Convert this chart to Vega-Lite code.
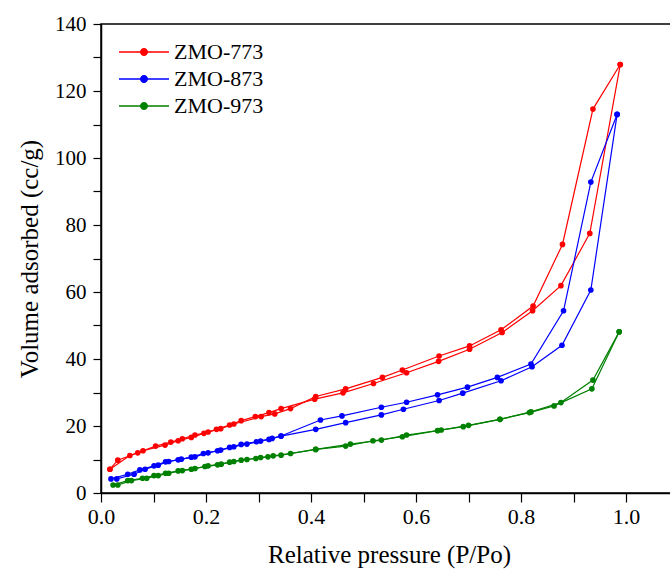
{
  "$schema": "https://vega.github.io/schema/vega-lite/v6.json",
  "width": 576,
  "height": 469,
  "autosize": {"type": "none"},
  "padding": {"left": 101, "top": 24, "right": 0, "bottom": 81},
  "background": "white",
  "config": {
    "view": {"stroke": "black", "strokeWidth": 1.5},
    "font": "Liberation Serif",
    "axis": {
      "domainColor": "black", "domainWidth": 1.5, "tickColor": "black", "tickWidth": 1.2,
      "labelColor": "black", "titleColor": "black", "grid": false,
      "labelFont": "Liberation Serif", "titleFont": "Liberation Serif",
      "labelFontSize": 21, "titleFontSize": 25, "titleFontWeight": "normal"
    }
  },
  "data": {"values": [
    {"s":"ZMO-773","b":"a","x":0.017,"y":7.1},{"s":"ZMO-773","b":"a","x":0.032,"y":9.8},{"s":"ZMO-773","b":"a","x":0.080,"y":12.6},{"s":"ZMO-773","b":"a","x":0.122,"y":14.3},{"s":"ZMO-773","b":"a","x":0.147,"y":15.6},{"s":"ZMO-773","b":"a","x":0.172,"y":16.6},{"s":"ZMO-773","b":"a","x":0.196,"y":17.8},{"s":"ZMO-773","b":"a","x":0.220,"y":19.0},{"s":"ZMO-773","b":"a","x":0.245,"y":20.3},{"s":"ZMO-773","b":"a","x":0.267,"y":21.6},{"s":"ZMO-773","b":"a","x":0.294,"y":22.8},{"s":"ZMO-773","b":"a","x":0.320,"y":24.0},{"s":"ZMO-773","b":"a","x":0.343,"y":25.2},{"s":"ZMO-773","b":"a","x":0.407,"y":28.0},{"s":"ZMO-773","b":"a","x":0.461,"y":29.9},{"s":"ZMO-773","b":"a","x":0.519,"y":32.7},{"s":"ZMO-773","b":"a","x":0.582,"y":35.9},{"s":"ZMO-773","b":"a","x":0.643,"y":39.3},{"s":"ZMO-773","b":"a","x":0.702,"y":42.9},{"s":"ZMO-773","b":"a","x":0.764,"y":47.9},{"s":"ZMO-773","b":"a","x":0.822,"y":54.4},{"s":"ZMO-773","b":"a","x":0.876,"y":61.9},{"s":"ZMO-773","b":"a","x":0.931,"y":77.5},{"s":"ZMO-773","b":"a","x":0.989,"y":127.9},
    {"s":"ZMO-773","b":"d","x":0.989,"y":127.9},{"s":"ZMO-773","b":"d","x":0.937,"y":114.6},{"s":"ZMO-773","b":"d","x":0.879,"y":74.2},{"s":"ZMO-773","b":"d","x":0.823,"y":55.8},{"s":"ZMO-773","b":"d","x":0.762,"y":48.7},{"s":"ZMO-773","b":"d","x":0.702,"y":43.9},{"s":"ZMO-773","b":"d","x":0.644,"y":40.9},{"s":"ZMO-773","b":"d","x":0.574,"y":36.7},{"s":"ZMO-773","b":"d","x":0.536,"y":34.5},{"s":"ZMO-773","b":"d","x":0.466,"y":31.1},{"s":"ZMO-773","b":"d","x":0.409,"y":28.8},{"s":"ZMO-773","b":"d","x":0.361,"y":25.2},{"s":"ZMO-773","b":"d","x":0.331,"y":23.6},{"s":"ZMO-773","b":"d","x":0.305,"y":22.8},{"s":"ZMO-773","b":"d","x":0.253,"y":20.6},{"s":"ZMO-773","b":"d","x":0.228,"y":19.2},{"s":"ZMO-773","b":"d","x":0.204,"y":18.2},{"s":"ZMO-773","b":"d","x":0.179,"y":17.3},{"s":"ZMO-773","b":"d","x":0.155,"y":16.2},{"s":"ZMO-773","b":"d","x":0.133,"y":15.2},{"s":"ZMO-773","b":"d","x":0.104,"y":14.0},{"s":"ZMO-773","b":"d","x":0.070,"y":12.0},{"s":"ZMO-773","b":"d","x":0.055,"y":11.2},{"s":"ZMO-773","b":"d","x":0.017,"y":7.1},
    {"s":"ZMO-873","b":"a","x":0.019,"y":4.2},{"s":"ZMO-873","b":"a","x":0.051,"y":5.6},{"s":"ZMO-873","b":"a","x":0.074,"y":6.9},{"s":"ZMO-873","b":"a","x":0.101,"y":8.1},{"s":"ZMO-873","b":"a","x":0.123,"y":9.3},{"s":"ZMO-873","b":"a","x":0.147,"y":9.9},{"s":"ZMO-873","b":"a","x":0.172,"y":10.7},{"s":"ZMO-873","b":"a","x":0.195,"y":11.8},{"s":"ZMO-873","b":"a","x":0.222,"y":12.6},{"s":"ZMO-873","b":"a","x":0.245,"y":13.6},{"s":"ZMO-873","b":"a","x":0.267,"y":14.5},{"s":"ZMO-873","b":"a","x":0.296,"y":15.3},{"s":"ZMO-873","b":"a","x":0.320,"y":16.0},{"s":"ZMO-873","b":"a","x":0.343,"y":17.0},{"s":"ZMO-873","b":"a","x":0.409,"y":19.0},{"s":"ZMO-873","b":"a","x":0.466,"y":21.0},{"s":"ZMO-873","b":"a","x":0.534,"y":23.3},{"s":"ZMO-873","b":"a","x":0.576,"y":25.0},{"s":"ZMO-873","b":"a","x":0.644,"y":27.6},{"s":"ZMO-873","b":"a","x":0.689,"y":29.8},{"s":"ZMO-873","b":"a","x":0.762,"y":33.5},{"s":"ZMO-873","b":"a","x":0.821,"y":37.7},{"s":"ZMO-873","b":"a","x":0.878,"y":44.1},{"s":"ZMO-873","b":"a","x":0.933,"y":60.6},{"s":"ZMO-873","b":"a","x":0.983,"y":113.0},
    {"s":"ZMO-873","b":"d","x":0.983,"y":113.0},{"s":"ZMO-873","b":"d","x":0.933,"y":92.8},{"s":"ZMO-873","b":"d","x":0.881,"y":54.4},{"s":"ZMO-873","b":"d","x":0.819,"y":38.5},{"s":"ZMO-873","b":"d","x":0.755,"y":34.5},{"s":"ZMO-873","b":"d","x":0.698,"y":31.6},{"s":"ZMO-873","b":"d","x":0.641,"y":29.3},{"s":"ZMO-873","b":"d","x":0.582,"y":27.1},{"s":"ZMO-873","b":"d","x":0.534,"y":25.6},{"s":"ZMO-873","b":"d","x":0.459,"y":23.0},{"s":"ZMO-873","b":"d","x":0.418,"y":21.8},{"s":"ZMO-873","b":"d","x":0.343,"y":17.0},{"s":"ZMO-873","b":"d","x":0.326,"y":16.3},{"s":"ZMO-873","b":"d","x":0.304,"y":15.5},{"s":"ZMO-873","b":"d","x":0.278,"y":14.6},{"s":"ZMO-873","b":"d","x":0.253,"y":13.8},{"s":"ZMO-873","b":"d","x":0.228,"y":12.8},{"s":"ZMO-873","b":"d","x":0.204,"y":12.0},{"s":"ZMO-873","b":"d","x":0.179,"y":10.8},{"s":"ZMO-873","b":"d","x":0.153,"y":10.1},{"s":"ZMO-873","b":"d","x":0.129,"y":9.4},{"s":"ZMO-873","b":"d","x":0.109,"y":8.3},{"s":"ZMO-873","b":"d","x":0.084,"y":7.1},{"s":"ZMO-873","b":"d","x":0.063,"y":5.6},{"s":"ZMO-873","b":"d","x":0.030,"y":4.2},
    {"s":"ZMO-973","b":"a","x":0.023,"y":2.4},{"s":"ZMO-973","b":"a","x":0.051,"y":3.7},{"s":"ZMO-973","b":"a","x":0.079,"y":4.4},{"s":"ZMO-973","b":"a","x":0.101,"y":5.2},{"s":"ZMO-973","b":"a","x":0.123,"y":5.9},{"s":"ZMO-973","b":"a","x":0.147,"y":6.6},{"s":"ZMO-973","b":"a","x":0.172,"y":7.1},{"s":"ZMO-973","b":"a","x":0.198,"y":7.9},{"s":"ZMO-973","b":"a","x":0.222,"y":8.4},{"s":"ZMO-973","b":"a","x":0.245,"y":9.2},{"s":"ZMO-973","b":"a","x":0.267,"y":9.8},{"s":"ZMO-973","b":"a","x":0.295,"y":10.3},{"s":"ZMO-973","b":"a","x":0.318,"y":10.8},{"s":"ZMO-973","b":"a","x":0.343,"y":11.3},{"s":"ZMO-973","b":"a","x":0.409,"y":13.0},{"s":"ZMO-973","b":"a","x":0.466,"y":14.0},{"s":"ZMO-973","b":"a","x":0.518,"y":15.6},{"s":"ZMO-973","b":"a","x":0.574,"y":16.8},{"s":"ZMO-973","b":"a","x":0.641,"y":18.6},{"s":"ZMO-973","b":"a","x":0.690,"y":19.8},{"s":"ZMO-973","b":"a","x":0.760,"y":22.0},{"s":"ZMO-973","b":"a","x":0.816,"y":24.0},{"s":"ZMO-973","b":"a","x":0.863,"y":26.0},{"s":"ZMO-973","b":"a","x":0.935,"y":31.1},{"s":"ZMO-973","b":"a","x":0.987,"y":48.1},
    {"s":"ZMO-973","b":"d","x":0.987,"y":48.1},{"s":"ZMO-973","b":"d","x":0.937,"y":33.7},{"s":"ZMO-973","b":"d","x":0.876,"y":27.0},{"s":"ZMO-973","b":"d","x":0.819,"y":24.2},{"s":"ZMO-973","b":"d","x":0.760,"y":22.0},{"s":"ZMO-973","b":"d","x":0.700,"y":20.2},{"s":"ZMO-973","b":"d","x":0.648,"y":18.8},{"s":"ZMO-973","b":"d","x":0.582,"y":17.3},{"s":"ZMO-973","b":"d","x":0.534,"y":15.8},{"s":"ZMO-973","b":"d","x":0.475,"y":14.6},{"s":"ZMO-973","b":"d","x":0.409,"y":13.0},{"s":"ZMO-973","b":"d","x":0.361,"y":11.8},{"s":"ZMO-973","b":"d","x":0.328,"y":11.1},{"s":"ZMO-973","b":"d","x":0.304,"y":10.6},{"s":"ZMO-973","b":"d","x":0.278,"y":10.0},{"s":"ZMO-973","b":"d","x":0.253,"y":9.4},{"s":"ZMO-973","b":"d","x":0.229,"y":8.6},{"s":"ZMO-973","b":"d","x":0.204,"y":8.1},{"s":"ZMO-973","b":"d","x":0.179,"y":7.3},{"s":"ZMO-973","b":"d","x":0.155,"y":6.7},{"s":"ZMO-973","b":"d","x":0.129,"y":5.9},{"s":"ZMO-973","b":"d","x":0.109,"y":5.2},{"s":"ZMO-973","b":"d","x":0.087,"y":4.4},{"s":"ZMO-973","b":"d","x":0.058,"y":3.7},{"s":"ZMO-973","b":"d","x":0.032,"y":2.4}
  ]},
  "encoding": {
    "x": {"field": "x", "type": "quantitative", "scale": {"domain": [0, 1.0971], "nice": false, "zero": false},
      "axis": {"title": "Relative pressure (P/Po)", "values": [0,0.1,0.2,0.3,0.4,0.5,0.6,0.7,0.8,0.9,1.0],
        "labelFont": "Liberation Serif", "titleFont": "Liberation Serif", "labelFontSize": 22, "tickSize": 9,
        "labelExpr": "round(datum.value*10) % 2 == 0 ? format(datum.value, '.1f') : ''", "labelPadding": 4, "titlePadding": 15, "labelFlush": false,
        "encode": {"ticks": {"update": {"y2": {"signal": "round(datum.value*10) % 2 == 0 ? 9 : 5"}}},
                   "labels": {"update": {"fontSize": {"value": 22}, "font": {"value": "Liberation Serif"}}}}}},
    "y": {"field": "y", "type": "quantitative", "scale": {"domain": [0, 140], "nice": false},
      "axis": {"title": "Volume adsorbed (cc/g)", "values": [0,10,20,30,40,50,60,70,80,90,100,110,120,130,140],
        "labelFont": "Liberation Serif", "titleFont": "Liberation Serif", "tickSize": 8, "labelFontSize": 21,
        "labelExpr": "datum.value % 20 == 0 ? datum.value : ''", "labelPadding": 7, "titlePadding": 12, "labelFlush": false,
        "encode": {"ticks": {"update": {"x2": {"signal": "datum.value % 20 == 0 ? -8 : -4"}}},
                   "labels": {"update": {"fontSize": {"value": 21}, "font": {"value": "Liberation Serif"}}}}}},
    "color": {"field": "s", "type": "nominal",
      "scale": {"domain": ["ZMO-773","ZMO-873","ZMO-973"], "range": ["#ff0000","#0000ff","#008000"]},
      "legend": {"title": null, "orient": "none", "legendX": 32, "legendY": 17,
        "symbolType": "M-5,0L5,0M-0.65,0A0.65,0.65 0 1,0 0.65,0A0.65,0.65 0 1,0 -0.65,0Z",
        "symbolSize": 100, "symbolStrokeWidth": 1.5, "labelOffset": 19, "rowPadding": 5,
        "labelFont": "Liberation Serif", "labelFontSize": 22, "labelColor": "black",
        "encode": {"symbols": {"update": {"fill": {"scale": "color", "field": "value"}, "stroke": {"scale": "color", "field": "value"}, "opacity": {"value": 1}}}}}}
  },
  "layer": [
    {"mark": {"type": "line", "strokeWidth": 1.2}, "encoding": {"detail": {"field": "b"}, "order": {"field": "x", "type": "quantitative"}}},
    {"mark": {"type": "point", "filled": true, "size": 32, "opacity": 1}}
  ]
}
